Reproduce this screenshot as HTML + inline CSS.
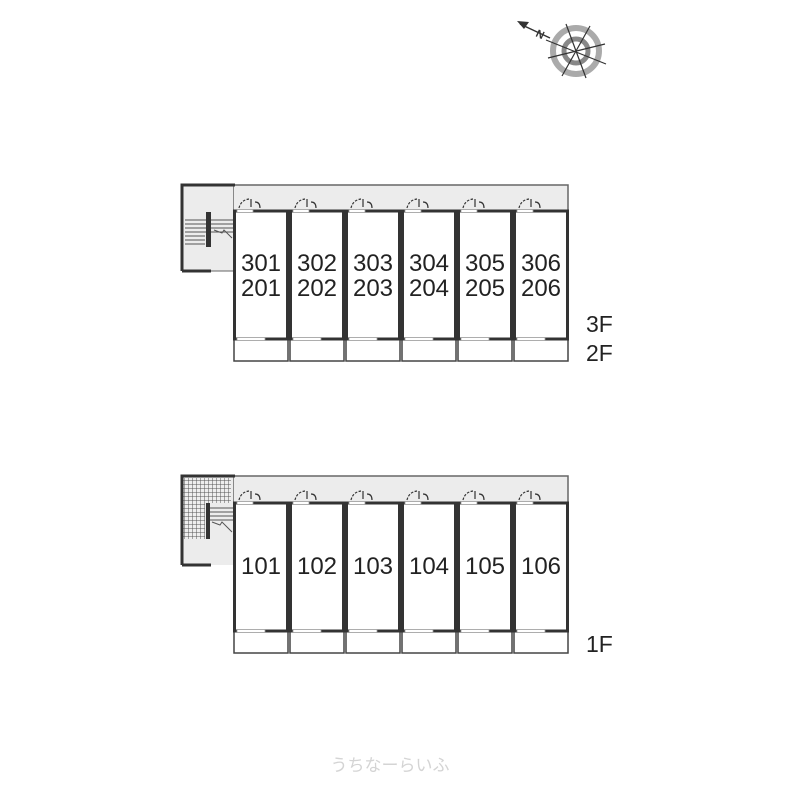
<!DOCTYPE html>
<html><head><meta charset="utf-8"><style>html,body{margin:0;padding:0;background:#fff}</style></head>
<body>
<svg width="800" height="800" viewBox="0 0 800 800" xmlns="http://www.w3.org/2000/svg" font-family="Liberation Sans, sans-serif">
<defs>
<pattern id="grid" width="4" height="4" patternUnits="userSpaceOnUse"><rect width="4" height="4" fill="#eee"/><path d="M0 0H4M0 0V4" stroke="#555" stroke-width="1"/></pattern>
<g id="door"><path d="M3 10 Q5 2 13 1" fill="none" stroke="#333" stroke-width="1.2" stroke-dasharray="2.5,1.5"/><path d="M15 1V9M19 4Q24 4 24 10" fill="none" stroke="#333" stroke-width="1.2"/></g>
</defs>
<!-- compass -->
<g>
<circle cx="576" cy="51" r="23" fill="none" stroke="#aaa" stroke-width="6"/>
<circle cx="576" cy="51" r="12" fill="none" stroke="#888" stroke-width="5"/>
<g stroke="#333" stroke-width="1.2"><line x1="566" y1="24" x2="586" y2="78"/><line x1="590" y1="26" x2="562" y2="76"/><line x1="548" y1="58" x2="605" y2="44"/><line x1="546" y1="40" x2="606" y2="64"/></g>
<path d="M517 21 L529 22 L524 29 Z" fill="#333"/>
<line x1="520" y1="24" x2="550" y2="38" stroke="#333" stroke-width="1.5"/>
<text x="535" y="36" font-size="11" font-weight="bold" fill="#333" transform="rotate(25 535 36)">N</text>
</g>
<!-- Upper building -->
<g>
<rect x="233" y="185" width="335" height="26" fill="#ececec" stroke="#666" stroke-width="1.5"/>
<rect x="182" y="185" width="51" height="86" fill="#ececec"/>
<path d="M182 271 V185 H235" fill="none" stroke="#333" stroke-width="3"/>
<path d="M182 271 H211" fill="none" stroke="#333" stroke-width="3"/>
<line x1="211" y1="271" x2="233" y2="271" stroke="#666"/>
<g stroke="#555" stroke-width="1"><line x1="185" y1="220" x2="233" y2="220"/><line x1="185" y1="224" x2="233" y2="224"/><line x1="185" y1="228" x2="233" y2="228"/><line x1="185" y1="232" x2="233" y2="232"/><line x1="185" y1="236" x2="205" y2="236"/><line x1="185" y1="240" x2="205" y2="240"/><line x1="185" y1="244" x2="205" y2="244"/></g>
<rect x="206" y="212" width="5" height="35" fill="#333"/>
<path d="M214 230 l8 3 l2 -3 l8 8" fill="none" stroke="#555"/>
</g>
<!-- Lower building -->
<g>
<rect x="233" y="476" width="335" height="27" fill="#ececec" stroke="#666" stroke-width="1.5"/>
<rect x="182" y="476" width="51" height="89" fill="#ececec"/>
<rect x="183" y="478" width="48" height="25" fill="url(#grid)"/>
<rect x="183" y="503" width="22" height="36" fill="url(#grid)"/>
<path d="M182 565 V476 H235" fill="none" stroke="#333" stroke-width="3"/>
<path d="M182 565 H211" fill="none" stroke="#333" stroke-width="3"/>
<g stroke="#555"><line x1="210" y1="508" x2="233" y2="508"/><line x1="210" y1="512" x2="233" y2="512"/><line x1="210" y1="516" x2="233" y2="516"/><line x1="210" y1="520" x2="233" y2="520"/></g>
<rect x="206" y="503" width="4" height="36" fill="#333"/>
<path d="M212 522 l8 3 l2 -3 l10 10" fill="none" stroke="#555"/>
</g>
<script>
(function(){
var svg=document.querySelector('svg');var ns='http://www.w3.org/2000/svg';
function el(n,a,t){var e=document.createElementNS(ns,n);for(var k in a)e.setAttribute(k,a[k]);if(t)e.textContent=t;svg.appendChild(e);return e;}
var xs=[233,289,345,401,457,513];
[[211,339,361],[503,631,653]].forEach(function(r,fi){
 xs.forEach(function(x,i){
  el('rect',{x:x+1,y:r[1],width:54,height:r[2]-r[1],fill:'#fff',stroke:'#444','stroke-width':1.5});
  el('rect',{x:x+1.5,y:r[0],width:53,height:r[1]-r[0],fill:'#fff',stroke:'#333','stroke-width':3});
  el('rect',{x:x+4,y:r[0]-1.5,width:16,height:3,fill:'#fff',stroke:'#999','stroke-width':0.8});
  el('rect',{x:x+4,y:r[1]-1.5,width:28,height:3,fill:'#fff',stroke:'#999','stroke-width':0.8});
  el('use',{href:'#door',x:x+3,y:r[0]-13});
  var n=i+1;
  if(fi==0){
   el('text',{x:x+28,y:271,'font-size':24,'text-anchor':'middle',fill:'#222'},'30'+n);
   el('text',{x:x+28,y:296,'font-size':24,'text-anchor':'middle',fill:'#222'},'20'+n);
  } else {
   el('text',{x:x+28,y:574,'font-size':24,'text-anchor':'middle',fill:'#222'},'10'+n);
  }
 });
});
})();
</script>
<text x="586" y="332" font-size="23" fill="#222">3F</text>
<text x="586" y="361" font-size="23" fill="#222">2F</text>
<text x="586" y="652" font-size="23" fill="#222">1F</text>
<text x="390" y="771" font-size="17" text-anchor="middle" fill="#d4d4d4" font-family="Liberation Sans, Noto Sans CJK JP, sans-serif">うちなーらいふ</text>
</svg>
</body></html>
